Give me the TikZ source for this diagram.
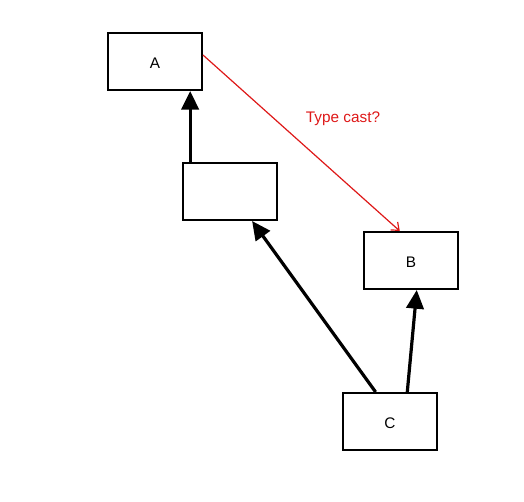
\documentclass[tikz,border=0pt]{standalone}
\usepackage{fontspec}
\setmainfont{Liberation Sans}
\usetikzlibrary{arrows.meta}
\usetikzlibrary{calc}
\definecolor{castred}{RGB}{222,24,24}
\tikzset{
    box/.style={draw, line width=1.5pt, minimum width=70.5pt, minimum height=42.75pt, inner sep=0pt, text height=11pt, text depth=0pt, font=\fontsize{11.5}{13}\selectfont},
    inherit/.style={line width=2.4pt, -{Triangle[length=14pt, width=13pt]}},
    cast/.style={castred, line width=0.9pt, -{Straight Barb[length=5pt, width=8pt]}}
}

\begin{document}
\begin{tikzpicture}[x=0.75pt, y=-0.75pt]
        \useasboundingbox (0, 0) rectangle (524, 501);

        % Draw boxes
        \node[box] (A) at (155, 61.5) {A};
        \node[box] (mid) at (230, 191.5) {};
        \node[box] (B) at (411, 260.5) {B};
        \node[box] (C) at (390, 421.5) {C};

        % Anchor points
        \coordinate (mtop) at ($(mid.north west)!0.085!(mid.north east)$);
        \coordinate (mbot) at ($(mid.south west)!0.73!(mid.south east)$);
        \coordinate (btop) at ($(B.north west)!0.383!(B.north east)$);
        \coordinate (bbot) at ($(B.south west)!0.56!(B.south east)$);
        \coordinate (cl) at ($(C.north west)!0.35!(C.north east)$);
        \coordinate (cr) at ($(C.north west)!0.68!(C.north east)$);
        \coordinate (aright) at ($(A.north east)!0.39!(A.south east)$);

        % Draw arrows
        \draw[inherit] (mtop) -- (mtop |- A.south);
        \draw[inherit] (cl) -- (mbot);
        \draw[inherit] (cr) -- (bbot);
        \draw[cast] (aright) -- (btop);

        \node[castred, font=\fontsize{11.5}{13}\selectfont] (castlabel) at (343, 119) {Type cast?};
    \end{tikzpicture}
\end{document}
